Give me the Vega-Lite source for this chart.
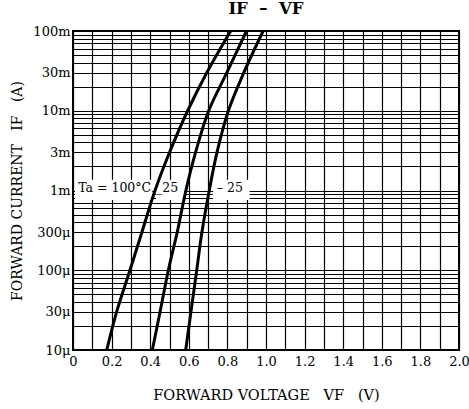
{
  "$schema": "https://vega.github.io/schema/vega-lite/v6.json",
  "width": 386,
  "height": 319,
  "autosize": "none",
  "padding": {"left": 73, "top": 31, "right": 10, "bottom": 59},
  "background": "white",
  "title": {"text": "IF\u00a0\u00a0–\u00a0\u00a0VF", "font": "DejaVu Serif", "fontSize": 16.5, "fontWeight": "bold", "anchor": "middle", "offset": 8, "color": "black"},
  "config": {"view": {"stroke": "black", "strokeWidth": 2}, "font": "DejaVu Serif"},
  "datasets": {
    "curves": [
      {"t": "100", "i": 0.00001, "v": 0.175},
      {"t": "100", "i": 0.00003, "v": 0.226},
      {"t": "100", "i": 0.0001, "v": 0.295},
      {"t": "100", "i": 0.0003, "v": 0.357},
      {"t": "100", "i": 0.001, "v": 0.425},
      {"t": "100", "i": 0.003, "v": 0.5},
      {"t": "100", "i": 0.01, "v": 0.594},
      {"t": "100", "i": 0.03, "v": 0.693},
      {"t": "100", "i": 0.1, "v": 0.817},
      {"t": "25", "i": 0.00001, "v": 0.411},
      {"t": "25", "i": 0.00003, "v": 0.451},
      {"t": "25", "i": 0.0001, "v": 0.494},
      {"t": "25", "i": 0.0003, "v": 0.54},
      {"t": "25", "i": 0.001, "v": 0.585},
      {"t": "25", "i": 0.003, "v": 0.635},
      {"t": "25", "i": 0.01, "v": 0.703},
      {"t": "25", "i": 0.03, "v": 0.797},
      {"t": "25", "i": 0.1, "v": 0.899},
      {"t": "-25", "i": 0.00001, "v": 0.584},
      {"t": "-25", "i": 0.00003, "v": 0.611},
      {"t": "-25", "i": 0.0001, "v": 0.641},
      {"t": "-25", "i": 0.0003, "v": 0.668},
      {"t": "-25", "i": 0.001, "v": 0.706},
      {"t": "-25", "i": 0.003, "v": 0.746},
      {"t": "-25", "i": 0.01, "v": 0.805},
      {"t": "-25", "i": 0.03, "v": 0.885},
      {"t": "-25", "i": 0.1, "v": 0.985}
    ],
    "boxes": [
      {"v": 0.01, "v2": 0.41, "i": 0.00076, "i2": 0.00136},
      {"v": 0.43, "v2": 0.575, "i": 0.00076, "i2": 0.00136},
      {"v": 0.725, "v2": 0.915, "i": 0.00076, "i2": 0.00136}
    ],
    "labels": [
      {"v": 0.027, "i": 0.00106, "label": "Ta = 100°C"},
      {"v": 0.43, "i": 0.00106, "label": "_25"},
      {"v": 0.745, "i": 0.00106, "label": "– 25"}
    ]
  },
  "encoding": {
    "x": {
      "field": "v", "type": "quantitative",
      "scale": {"domain": [0, 2], "nice": false, "zero": false},
      "axis": {
        "values": [0,0.1,0.2,0.3,0.4,0.5,0.6,0.7,0.8,0.9,1,1.1,1.2,1.3,1.4,1.5,1.6,1.7,1.8,1.9,2],
        "grid": true, "gridColor": "black", "gridWidth": 1.2, "gridOpacity": 1,
        "ticks": false, "domain": false,
        "labelExpr": "indexof([0,0.2,0.4,0.6,0.8,1,1.2,1.4,1.6,1.8,2], datum.value) < 0 ? '' : (datum.value == 0 ? '0' : format(datum.value, '.1f'))",
        "labelFont": "DejaVu Serif", "labelFontSize": 13, "labelColor": "black", "labelPadding": 5,
        "labelOverlap": false, "labelFlush": false, "labelBound": false,
        "title": "FORWARD VOLTAGE\u00a0\u00a0\u00a0VF\u00a0\u00a0\u00a0(V)", "titleFont": "DejaVu Serif", "titleFontSize": 14.5, "titleFontWeight": "normal", "titleColor": "black",
        "titleY": 49, "titleBaseline": "alphabetic"
      }
    },
    "y": {
      "field": "i", "type": "quantitative",
      "scale": {"type": "log", "domain": [0.00001, 0.1], "nice": false},
      "axis": {
        "values": [0.00001,0.00002,0.00003,0.00004,0.00005,0.00006,0.00007,0.00008,0.00009,0.0001,0.0002,0.0003,0.0004,0.0005,0.0006,0.0007,0.0008,0.0009,0.001,0.002,0.003,0.004,0.005,0.006,0.007,0.008,0.009,0.01,0.02,0.03,0.04,0.05,0.06,0.07,0.08,0.09,0.1],
        "grid": true, "gridColor": "black", "gridWidth": 1.2, "gridOpacity": 1,
        "ticks": false, "domain": false,
        "labelExpr": "indexof([0.1,0.03,0.01,0.003,0.001,0.0003,0.0001,0.00003,0.00001], datum.value) < 0 ? '' : ['100m','30m','10m','3m','1m','300μ','100μ','30μ','10μ'][indexof([0.1,0.03,0.01,0.003,0.001,0.0003,0.0001,0.00003,0.00001], datum.value)]",
        "labelFont": "DejaVu Serif", "labelFontSize": 13, "labelColor": "black", "labelPadding": 3,
        "labelOverlap": false, "labelFlush": false, "labelBound": false,
        "title": "FORWARD CURRENT\u00a0\u00a0\u00a0IF\u00a0\u00a0\u00a0(A)", "titleFont": "DejaVu Serif", "titleFontSize": 14, "titleFontWeight": "normal", "titleColor": "black",
        "titleX": -52, "titleY": 159.5, "titleBaseline": "alphabetic"
      }
    }
  },
  "layer": [
    {
      "data": {"name": "boxes"},
      "mark": {"type": "rect", "fill": "white", "stroke": null},
      "encoding": {
        "x2": {"field": "v2"},
        "y2": {"field": "i2"}
      }
    },
    {
      "data": {"name": "curves"},
      "mark": {"type": "line", "color": "black", "strokeWidth": 3, "interpolate": "catmull-rom"},
      "encoding": {
        "detail": {"field": "t", "type": "nominal"}
      }
    },
    {
      "data": {"name": "labels"},
      "mark": {"type": "text", "align": "left", "baseline": "middle", "font": "DejaVu Serif", "fontSize": 12.5, "color": "black"},
      "encoding": {
        "text": {"field": "label", "type": "nominal"}
      }
    }
  ]
}
